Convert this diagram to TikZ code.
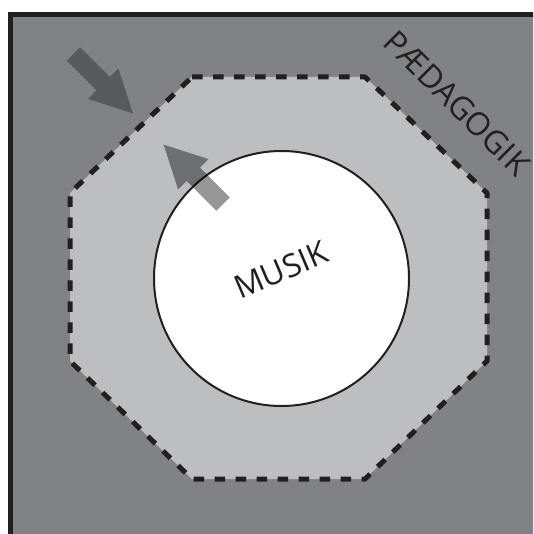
\documentclass[tikz,border=0pt]{standalone}
\usepackage{fontspec}
\setmainfont{Open Sans}
\usepackage{tikz}
\usetikzlibrary{calc}
\definecolor{outergray}{HTML}{808285}
\definecolor{innergray}{HTML}{BCBEC0}
\definecolor{inkblack}{HTML}{231F20}
\definecolor{arrowgray}{HTML}{58595B}
\tikzset{
  fatarrow/.pic={
    \fill (0,-9.5) -- (42,-9.5) -- (42,-21.5) -- (84,0) -- (42,21.5) -- (42,9.5) -- (0,9.5) -- cycle;
  },
  bigword/.style={inkblack, inner sep=0pt, font=\fontsize{32}{32}\selectfont}
}

\begin{document}
\begin{tikzpicture}[x=1pt,y=-1pt]
      \def\W{533}\def\H{534}
      \useasboundingbox (0,0) rectangle (\W,\H);
      \clip (0,0) rectangle (\W,\H);
      \def\showField{
        \fill [outergray] (10.3,14.5) rectangle (\W+20,\H+20);
        % Draw borders
        \draw [inkblack, line width=4.4] (10.3,\H+20) -- (10.3,14.5) -- (\W+20,14.5);
      }
      \def\octPoints{
        \coordinate (o1) at (192,77);
        \coordinate (o2) at (365,77);
        \coordinate (o3) at (487,193);
        \coordinate (o4) at (487,361);
        \coordinate (o5) at (365,479);
        \coordinate (o6) at (192,479);
        \coordinate (o7) at (70,361);
        \coordinate (o8) at (70,193);
      }
      \def\showOctagon{
        \fill [innergray] (o1) \foreach \i in {2,...,8} { -- (o\i) } -- cycle;
        \draw [inkblack, line width=5, dash pattern=on 10.5 off 10.5, line join=round]
          (o1) \foreach \i in {2,...,8} { -- (o\i) } -- cycle;
      }
      \def\showCircle{
        \node (core) [circle, draw=inkblack, fill=white, line width=2, minimum size=255] at (281.5,278.5) {};
        \node (musik) [bigword, rotate=23] at (281,270) {MUSIK};
        \node (paed) [bigword, rotate=-45] at (457,103) {PÆDAGOGIK};
      }
      \def\showArrows{
        \pic (inarrow) [fill=arrowgray, rotate=-45] at (73.5,54) {fatarrow};
        \pic (outarrow) [fill=black, fill opacity=0.41, rotate=135] at (223,204) {fatarrow};
      }
      \showField
      \octPoints
      \showOctagon
      \showCircle
      \showArrows
    \end{tikzpicture}
\end{document}
